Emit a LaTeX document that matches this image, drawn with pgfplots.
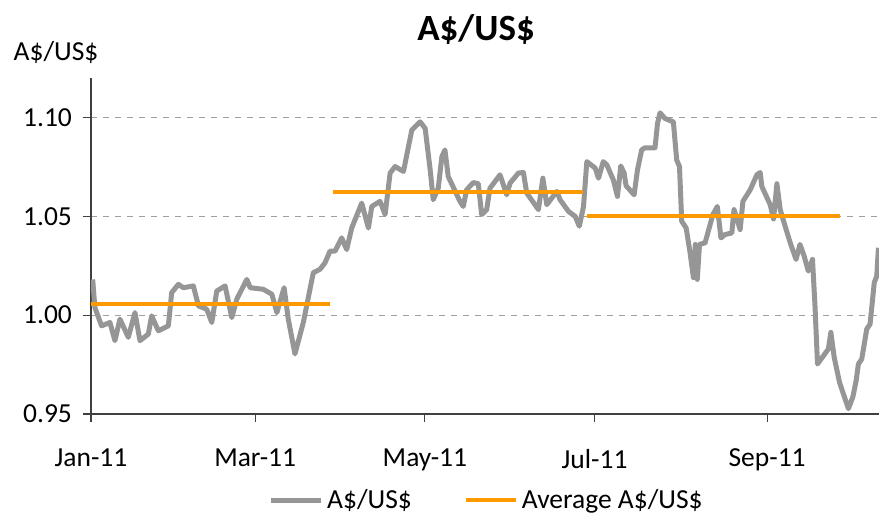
\documentclass[border=0pt]{standalone}
\usepackage{pgfplots}
\pgfplotsset{compat=1.18}
\usepackage{fontspec}
\setmainfont{Carlito}
\definecolor{lgrey}{HTML}{969696}
\definecolor{xlorange}{HTML}{FF9900}
\definecolor{gridgrey}{HTML}{A0A0A0}
\begin{document}
\begin{tikzpicture}
\begin{axis}[
  scale only axis,
  width=394pt, height=168pt,
  xmin=0, xmax=283.2, ymin=0.95, ymax=1.12,
  axis lines=left,
  axis line style={-, draw=black!75, line width=0.6pt},
  xtick={0,59,120,181,243},
  xticklabels={Jan-11,Mar-11,May-11,Jul-11,Sep-11},
  ytick={0.95,1.00,1.05,1.10},
  yticklabel style={/pgf/number format/fixed,/pgf/number format/precision=2,/pgf/number format/fixed zerofill},
  /pgf/number format/assume math mode=true,
  tick align=outside,
  major tick length=4pt,
  tick style={draw=black!75, line width=0.6pt},
  ymajorgrids,
  grid style={dashed, draw=gridgrey, line width=0.5pt},
  tick label style={font=\fontsize{13.75}{16}\selectfont},
  xticklabel style={yshift=-10pt},
  yticklabel style={xshift=-2pt},
  legend style={at={(rel axis cs:0.503,-0.256)}, anchor=center, draw=none, fill=none,
    font=\fontsize{13.75}{16}\selectfont, legend columns=2,
    /tikz/every even column/.append style={column sep=24pt}},
  legend cell align=left,
  legend image code/.code={\draw[#1] (0pt,0pt) -- (25pt,0pt);},
]
\coordinate (SW) at (rel axis cs:0,0);
\coordinate (NE) at (rel axis cs:1,1);
\coordinate (T) at (rel axis cs:0.4886,1.143);
\coordinate (YL) at (rel axis cs:-0.0444,1.077);
\addplot[draw=lgrey, line width=2.5pt, line join=round, sharp plot] coordinates {
(0.6,1.0181) (1.4,1.0039) (3.8,0.9946) (6.8,0.9963) (8.6,0.9871) (10.4,0.9980)
(13.4,0.9888) (15.8,1.0013) (17.6,0.9871) (20.6,0.9904) (21.8,0.9997) (24.2,0.9921)
(27.8,0.9946) (29.0,1.0114) (31.4,1.0156) (33.2,1.0139) (36.8,1.0148) (38.6,1.0047)
(41.6,1.0030) (43.4,0.9963) (45.2,1.0122) (48.2,1.0148) (50.6,0.9988) (52.4,1.0081)
(56.0,1.0181) (57.2,1.0139) (61.9,1.0131) (65.0,1.0106) (66.8,1.0013) (69.4,1.0139)
(70.9,0.9980) (73.3,0.9804) (76.3,0.9963) (79.9,1.0215) (82.3,1.0232) (84.1,1.0265)
(85.9,1.0324) (87.7,1.0324) (90.1,1.0391) (91.9,1.0332) (93.7,1.0441) (97.3,1.0567)
(99.7,1.0441) (100.9,1.0550) (103.9,1.0576) (105.7,1.0509) (107.5,1.0719) (109.3,1.0752)
(112.3,1.0727) (115.3,1.0937) (118.3,1.0978) (120.1,1.0945) (121.9,1.0735) (123.0,1.0584)
(124.8,1.0643) (126.1,1.0802) (127.2,1.0836) (128.4,1.0701) (132.6,1.0576) (133.8,1.0550)
(135.0,1.0634) (137.4,1.0671) (139.2,1.0665) (140.4,1.0509) (142.2,1.0534) (143.4,1.0643)
(147.0,1.0710) (149.4,1.0609) (150.6,1.0668) (153.6,1.0719) (155.4,1.0722) (156.6,1.0618)
(160.8,1.0534) (162.4,1.0693) (163.8,1.0559) (167.4,1.0626) (168.6,1.0584) (171.6,1.0525)
(174.0,1.0500) (175.5,1.0450) (177.0,1.0550) (178.2,1.0777) (181.2,1.0744) (182.4,1.0693)
(184.1,1.0777) (185.4,1.0760) (187.7,1.0685) (189.2,1.0601) (190.4,1.0755) (191.6,1.0719)
(192.3,1.0655) (195.2,1.0609) (196.4,1.0735) (197.9,1.0836) (199.1,1.0847) (202.7,1.0847)
(203.6,1.0970) (204.5,1.1024) (206.3,1.0995) (209.3,1.0978) (210.5,1.0785) (211.5,1.0752)
(212.3,1.0475) (213.9,1.0441) (215.3,1.0316) (216.5,1.0190) (217.2,1.0358) (217.9,1.0181)
(218.7,1.0358) (220.7,1.0366) (223.5,1.0509) (225.1,1.0550) (226.4,1.0391) (227.9,1.0408)
(230.3,1.0416) (231.1,1.0534) (233.3,1.0433) (234.3,1.0576) (236.9,1.0634) (239.3,1.0710)
(240.5,1.0722) (241.1,1.0651) (244.1,1.0559) (245.3,1.0487) (246.5,1.0665) (247.7,1.0534)
(249.1,1.0467) (251.3,1.0366) (253.4,1.0282) (254.8,1.0358) (256.3,1.0299) (257.8,1.0223)
(259.3,1.0282) (260.2,1.0047) (261.1,0.9753) (265.0,0.9829) (265.9,0.9913) (267.1,0.9787)
(269.0,0.9661) (270.4,0.9602) (272.2,0.9527) (273.8,0.9586) (275.0,0.9669) (275.8,0.9753)
(277.0,0.9778) (278.8,0.9930) (280.0,0.9955) (281.5,1.0165) (282.4,1.0198) (283.0,1.0341)
};
\addlegendentry{A\$/US\$}
\addplot[draw=xlorange, line width=2pt] coordinates {(0,1.0055) (85.9,1.0055)};
\addlegendentry{Average A\$/US\$}
\addplot[draw=xlorange, line width=2pt, forget plot] coordinates {(87.0,1.0624) (176.9,1.0624)};
\addplot[draw=xlorange, line width=2pt, forget plot] coordinates {(178.3,1.0500) (269.2,1.0500)};
\end{axis}
\node[font=\fontsize{18.5}{22}\selectfont\bfseries] at (T) {A\$/US\$};
\node[font=\fontsize{13.75}{16}\selectfont] at (YL) {A\$/US\$};
\pgfresetboundingbox
\path ([shift={(-45.5pt,-52.5pt)}]SW) rectangle ([shift={(0pt,39pt)}]NE);
\end{tikzpicture}
\end{document}
